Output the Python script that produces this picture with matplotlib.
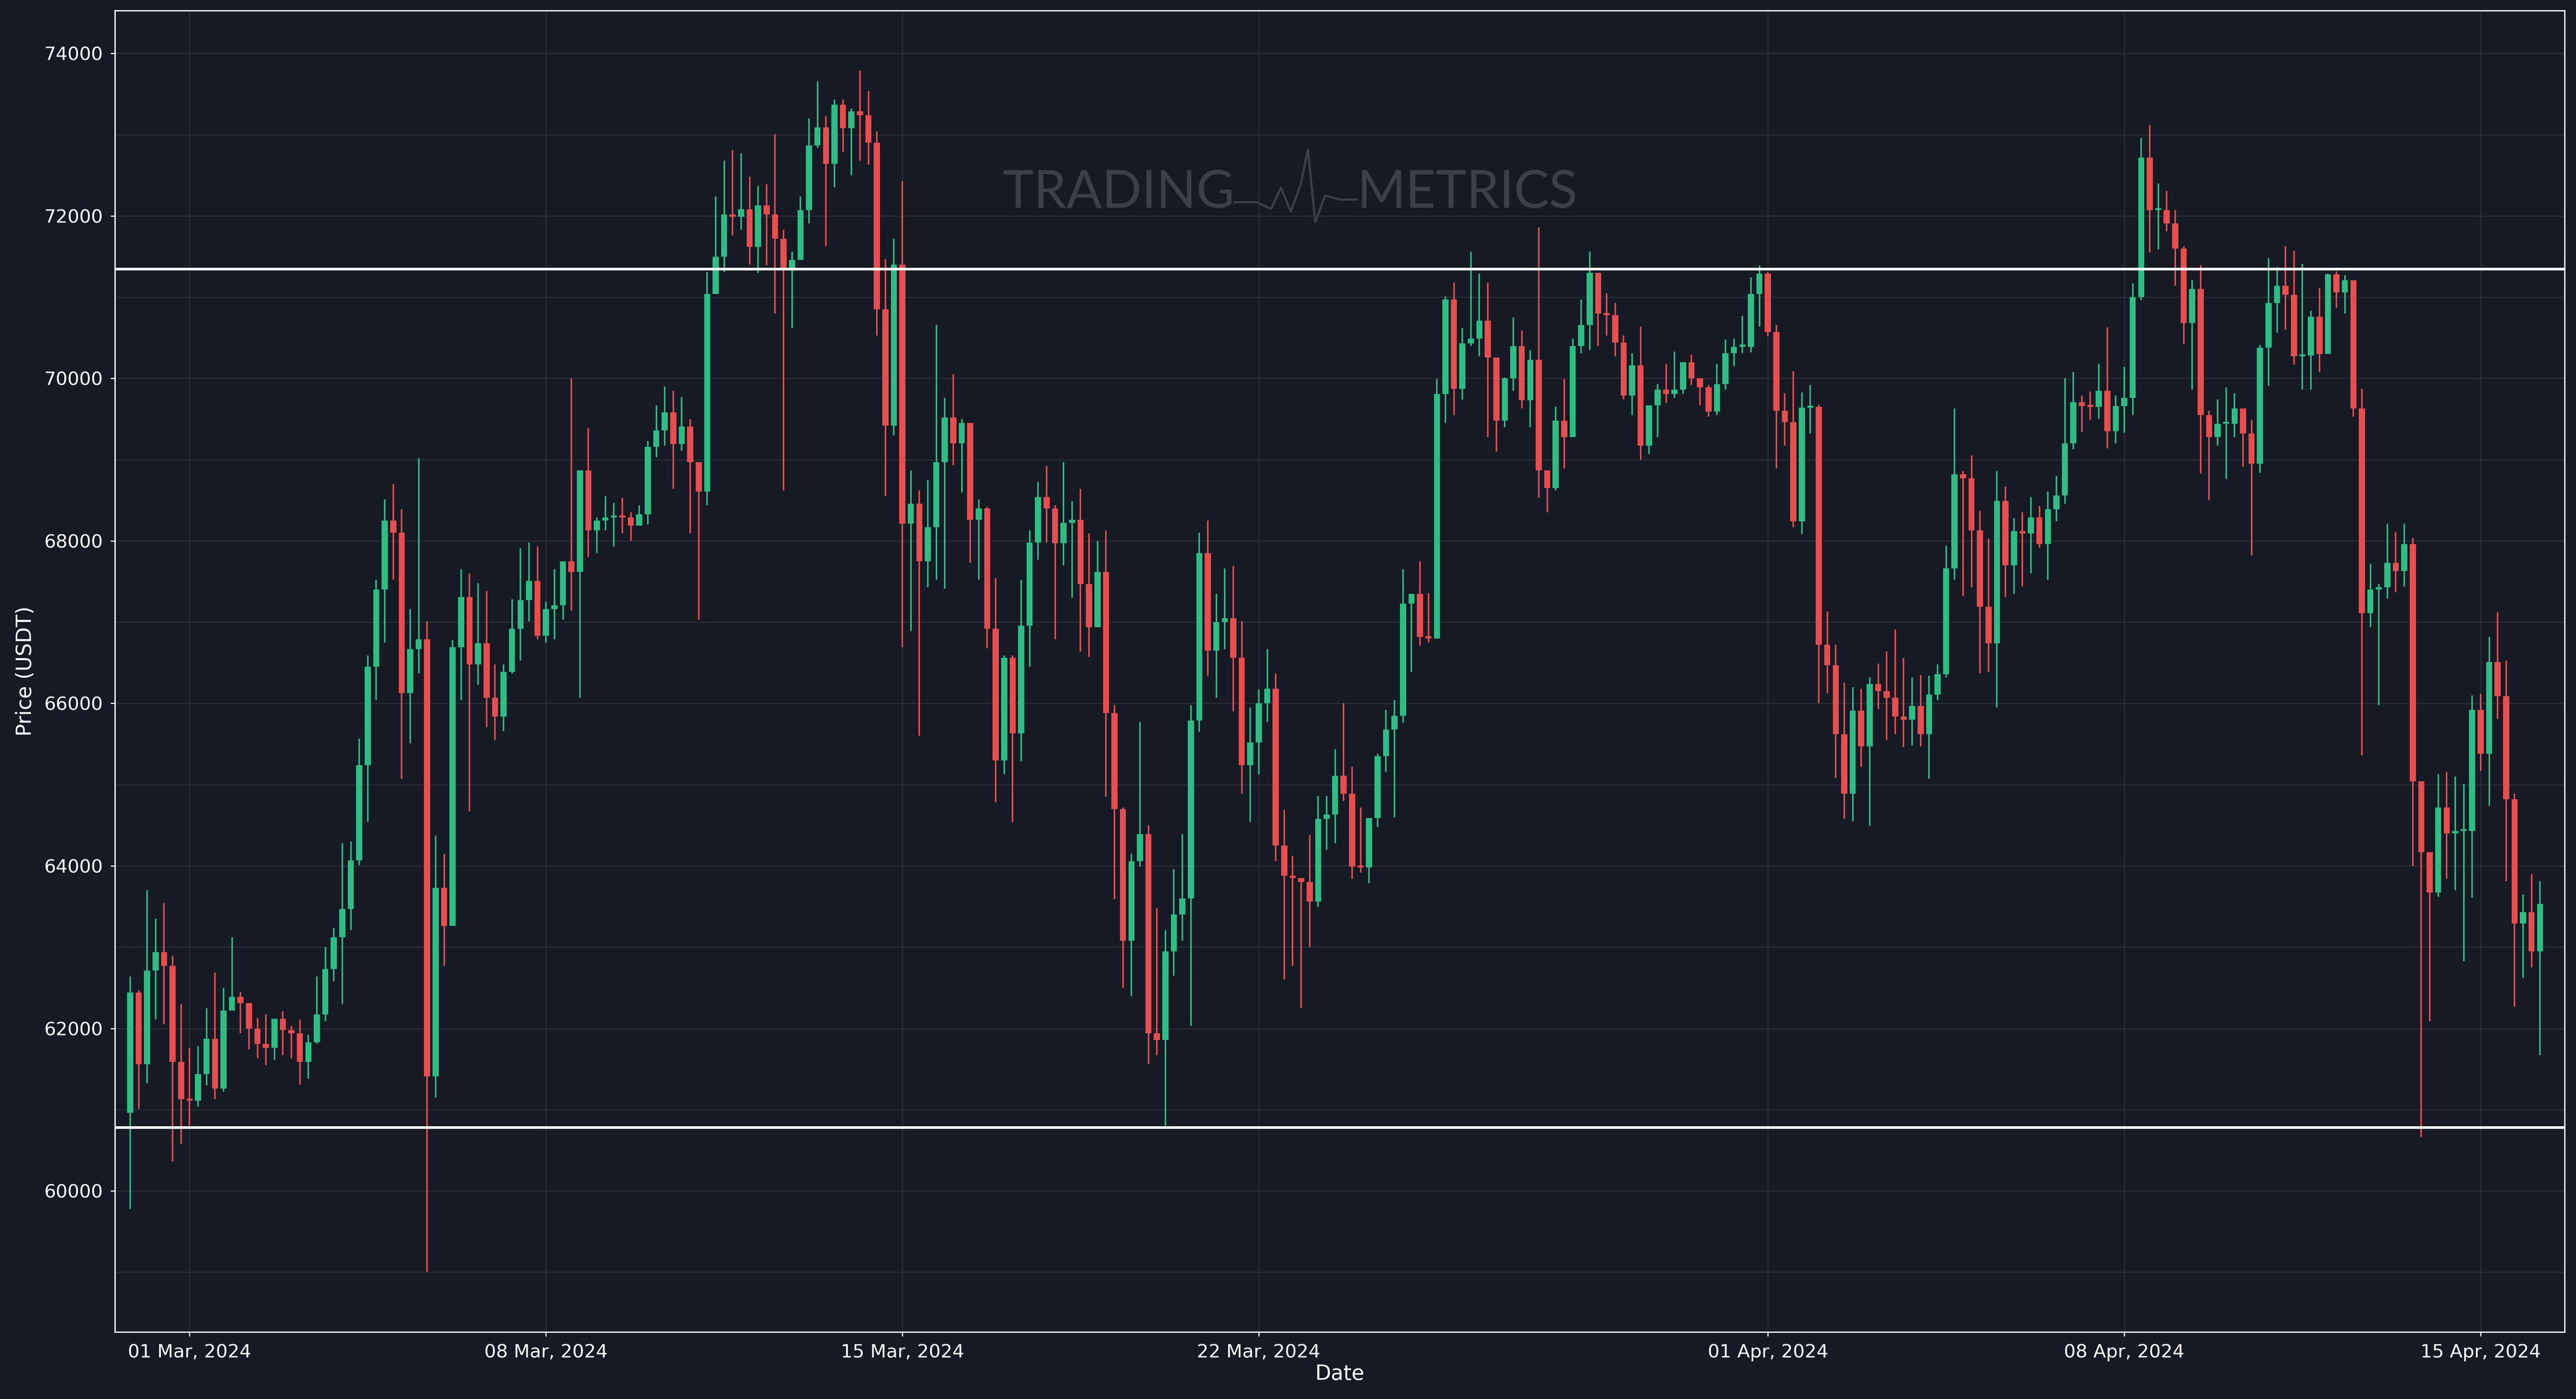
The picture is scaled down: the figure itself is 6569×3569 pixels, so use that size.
import matplotlib.pyplot as plt
import numpy as np

# 4h candles starting 2024-02-28 20:00, prices in thousands of USDT
first_open = 60.96
close = [62.44, 61.56, 62.71, 62.94, 62.77, 61.59, 61.13, 61.11, 61.44, 61.87,
         61.26, 62.22, 62.39, 62.31, 62.00, 61.81, 61.76, 62.12, 61.98, 61.94,
         61.59, 61.83, 62.17, 62.73, 63.12, 63.47, 64.07, 65.24, 66.45, 67.40,
         68.25, 68.10, 66.13, 66.67, 66.79, 61.41, 63.73, 63.26, 66.69, 67.31,
         66.48, 66.74, 66.07, 65.84, 66.39, 66.92, 67.27, 67.51, 66.83, 67.16,
         67.21, 67.75, 67.62, 68.87, 68.13, 68.25, 68.29, 68.31, 68.29, 68.19,
         68.33, 69.16, 69.36, 69.58, 69.19, 69.41, 68.97, 68.61, 71.04, 71.50,
         72.02, 71.99, 72.08, 71.62, 72.13, 72.02, 71.72, 71.36, 71.46, 72.07,
         72.87, 73.09, 72.64, 73.37, 73.08, 73.29, 73.24, 72.90, 70.85, 69.42,
         71.40, 68.21, 68.46, 67.75, 68.17, 68.97, 69.52, 69.20, 69.45, 68.26,
         68.40, 66.92, 65.30, 66.56, 65.63, 66.96, 67.98, 68.54, 68.40, 67.97,
         68.22, 68.26, 67.47, 66.94, 67.62, 65.88, 64.70, 63.08, 64.06, 64.39,
         61.94, 61.86, 62.95, 63.40, 63.60, 65.79, 67.85, 66.65, 67.00, 67.05,
         66.56, 65.24, 65.52, 66.00, 66.18, 64.25, 63.88, 63.85, 63.80, 63.56,
         64.58, 64.63, 65.11, 64.89, 63.99, 63.98, 64.59, 65.35, 65.68, 65.85,
         67.23, 67.35, 66.82, 66.80, 69.81, 70.97, 69.87, 70.43, 70.49, 70.71,
         70.26, 69.48, 70.00, 70.40, 69.73, 70.23, 68.87, 68.65, 69.48, 69.28,
         70.40, 70.66, 71.30, 70.80, 70.78, 70.44, 69.79, 70.16, 69.17, 69.67,
         69.86, 69.81, 69.86, 70.20, 70.00, 69.89, 69.59, 69.93, 70.31, 70.39,
         70.39, 71.04, 71.29, 70.57, 69.60, 69.46, 68.24, 69.64, 69.65, 66.72,
         66.47, 65.62, 64.89, 65.91, 65.47, 66.24, 66.15, 66.07, 65.84, 65.80,
         65.97, 65.62, 66.11, 66.36, 67.66, 68.82, 68.77, 68.13, 67.19, 66.74,
         68.49, 67.70, 68.12, 68.09, 68.29, 67.96, 68.39, 68.56, 69.20, 69.71,
         69.66, 69.65, 69.85, 69.35, 69.66, 69.76, 71.00, 72.72, 72.07, 72.07,
         71.91, 71.60, 70.68, 71.10, 69.55, 69.28, 69.44, 69.44, 69.63, 69.32,
         68.95, 70.38, 70.93, 71.14, 71.03, 70.27, 70.28, 70.76, 70.30, 71.28,
         71.06, 71.21, 69.63, 67.11, 67.40, 67.43, 67.73, 67.63, 67.96, 65.04,
         64.17, 63.67, 64.72, 64.40, 64.43, 64.43, 65.92, 65.38, 66.51, 66.09,
         64.82, 63.29, 63.43, 62.95, 63.53]
high = [62.64, 62.47, 63.70, 63.35, 63.54, 62.89, 62.30, 61.76, 61.78, 62.25,
        62.69, 62.50, 63.12, 62.45, 62.31, 62.13, 62.17, 62.12, 62.21, 62.03,
        62.11, 61.92, 62.64, 63.00, 63.24, 64.28, 64.30, 65.57, 66.59, 67.52,
        68.51, 68.70, 68.39, 67.16, 69.02, 67.01, 64.37, 64.15, 66.78, 67.65,
        67.60, 67.48, 67.38, 66.48, 66.48, 67.28, 67.91, 67.98, 67.93, 67.25,
        67.65, 67.75, 70.00, 68.87, 69.39, 68.29, 68.55, 68.47, 68.53, 68.35,
        68.44, 69.23, 69.67, 69.90, 69.85, 69.77, 69.50, 68.97, 71.31, 72.24,
        72.68, 72.81, 72.77, 72.48, 72.37, 72.39, 73.01, 71.83, 71.56, 72.24,
        73.20, 73.66, 73.23, 73.43, 73.43, 73.32, 73.79, 73.54, 73.04, 71.47,
        71.72, 72.43, 68.87, 68.62, 68.75, 70.66, 69.76, 70.05, 69.50, 69.45,
        68.51, 68.42, 67.54, 66.59, 66.59, 67.52, 68.13, 68.73, 68.92, 68.44,
        68.97, 68.49, 68.64, 68.09, 68.00, 68.13, 65.98, 64.72, 64.15, 65.77,
        64.50, 63.48, 63.21, 63.96, 64.39, 65.98, 68.10, 68.25, 67.35, 67.66,
        67.69, 67.01, 65.95, 66.17, 66.67, 66.37, 64.69, 64.12, 63.85, 64.38,
        64.86, 64.86, 65.44, 66.00, 65.22, 64.72, 64.59, 65.38, 65.92, 66.04,
        67.65, 67.35, 67.75, 67.36, 69.99, 71.01, 71.18, 70.62, 71.56, 71.29,
        71.18, 70.20, 70.01, 70.75, 70.59, 70.35, 71.86, 68.87, 69.65, 69.99,
        70.49, 70.97, 71.56, 71.27, 71.05, 70.93, 70.53, 70.31, 70.64, 69.67,
        69.93, 70.18, 70.33, 70.20, 70.29, 70.00, 69.92, 70.18, 70.48, 70.49,
        70.77, 71.24, 71.39, 71.31, 70.66, 69.82, 70.09, 69.83, 69.92, 69.68,
        67.13, 66.72, 66.26, 66.20, 66.18, 66.32, 66.49, 66.64, 66.91, 66.56,
        66.32, 66.35, 66.34, 66.48, 67.94, 69.63, 68.86, 69.05, 68.37, 68.03,
        68.86, 68.67, 68.28, 68.35, 68.54, 68.43, 68.61, 68.80, 70.00, 70.08,
        69.79, 69.84, 70.18, 70.63, 69.79, 70.14, 71.17, 72.96, 73.12, 72.40,
        72.31, 72.07, 71.63, 71.21, 71.39, 69.60, 69.74, 69.89, 69.82, 69.63,
        69.49, 70.41, 71.48, 71.37, 71.63, 71.57, 71.41, 70.83, 71.11, 71.29,
        71.32, 71.27, 71.21, 69.87, 67.72, 67.47, 68.21, 68.11, 68.21, 68.04,
        65.00, 64.07, 65.13, 65.16, 65.10, 65.01, 66.10, 66.12, 66.82, 67.12,
        66.53, 64.89, 63.65, 63.90, 63.81]
low = [59.78, 61.01, 61.32, 62.11, 62.05, 60.36, 60.58, 60.80, 61.04, 61.30,
       61.13, 61.22, 62.22, 61.94, 61.74, 61.63, 61.55, 61.61, 61.67, 61.63,
       61.31, 61.38, 61.81, 62.09, 62.58, 62.30, 63.21, 64.01, 64.54, 66.04,
       66.75, 67.52, 65.07, 65.51, 66.37, 59.00, 61.15, 62.77, 63.26, 66.04,
       64.67, 66.23, 65.71, 65.55, 65.66, 66.37, 66.53, 67.01, 66.79, 66.75,
       66.79, 67.03, 67.14, 66.07, 67.80, 67.85, 68.13, 67.93, 68.09, 68.00,
       68.19, 68.20, 69.03, 69.17, 68.64, 69.11, 68.09, 67.03, 68.44, 71.04,
       71.31, 71.76, 71.83, 71.40, 71.30, 71.39, 70.80, 68.62, 70.62, 71.46,
       71.91, 72.84, 71.63, 72.35, 72.79, 72.50, 72.68, 72.63, 70.53, 68.55,
       69.30, 66.69, 66.89, 65.60, 67.43, 67.52, 67.41, 68.93, 68.60, 67.73,
       67.52, 66.68, 64.78, 65.13, 64.54, 65.29, 66.45, 67.77, 67.98, 66.79,
       67.70, 67.30, 66.64, 66.57, 66.94, 64.85, 63.59, 62.50, 62.40, 63.99,
       61.56, 61.67, 60.80, 62.65, 63.08, 62.03, 65.65, 66.34, 66.07, 66.67,
       65.90, 64.89, 64.54, 65.13, 65.77, 64.06, 62.60, 62.77, 62.25, 63.00,
       63.50, 64.20, 64.28, 64.80, 63.84, 63.92, 63.79, 64.48, 65.16, 64.60,
       65.76, 66.39, 66.71, 66.75, 66.80, 69.45, 69.55, 69.74, 70.40, 70.27,
       69.28, 69.10, 69.40, 69.85, 69.63, 69.40, 68.53, 68.35, 68.62, 68.89,
       69.28, 70.31, 70.35, 70.40, 70.53, 70.27, 69.74, 69.55, 69.00, 69.07,
       69.28, 69.70, 69.76, 69.81, 69.92, 69.67, 69.53, 69.55, 69.86, 70.15,
       70.31, 70.32, 70.64, 70.52, 68.89, 69.17, 68.17, 68.08, 69.32, 66.00,
       66.13, 65.08, 64.58, 64.55, 65.22, 64.49, 65.93, 65.55, 65.62, 65.46,
       65.48, 65.47, 65.07, 66.04, 66.32, 67.52, 67.32, 67.43, 66.37, 66.39,
       65.95, 67.31, 67.35, 67.44, 67.60, 67.92, 67.52, 68.24, 68.46, 69.13,
       69.34, 69.49, 69.50, 69.14, 69.20, 69.33, 69.55, 70.96, 71.55, 71.59,
       71.81, 71.14, 70.42, 69.86, 68.83, 68.50, 69.17, 68.76, 69.28, 68.91,
       67.82, 68.84, 69.91, 70.56, 70.60, 70.17, 69.86, 69.86, 70.08, 70.30,
       70.87, 70.80, 69.53, 65.36, 66.94, 65.98, 67.29, 67.37, 67.44, 64.00,
       60.66, 62.09, 63.62, 63.84, 63.70, 62.83, 63.61, 65.17, 64.74, 65.81,
       63.81, 62.27, 62.62, 62.75, 61.67]
resistance = 71350
support = 60780
# candle index of each date tick (6 candles per day)
tick_pos = [7, 49, 91, 133, 193, 235, 277]
tick_labels = ["01 Mar, 2024", "08 Mar, 2024", "15 Mar, 2024", "22 Mar, 2024",
               "01 Apr, 2024", "08 Apr, 2024", "15 Apr, 2024"]

c = np.array(close) * 1000
h = np.array(high) * 1000
l = np.array(low) * 1000
o = np.concatenate([[first_open * 1000], c[:-1]])
x = np.arange(len(c))

bg = "#161a25"
green = "#2ebd85"
red = "#e84d4f"

fig = plt.figure(figsize=(6569 / 400, 3569 / 400), dpi=400, facecolor=bg)
ax = fig.add_axes([0.0446, 0.048, 0.951, 0.9444])
ax.set_facecolor(bg)

up = c >= o
cols = np.where(up, green, red)
ax.vlines(x, l, h, colors=cols, linewidth=0.7, zorder=2)
bot = np.minimum(o, c)
hgt = np.maximum(np.abs(c - o), 25)
ax.bar(x, hgt, bottom=bot, width=0.72, color=cols, linewidth=0, zorder=3)

ax.axhline(resistance, color="white", linewidth=1.2, zorder=4)
ax.axhline(support, color="white", linewidth=1.2, zorder=4)

ax.set_xlim(-1.8, 286.9)
ax.set_ylim(58265, 74527)
ax.set_xticks(tick_pos)
ax.set_xticklabels(tick_labels)
ax.set_yticks(np.arange(60000, 74001, 2000))
ax.set_yticks(np.arange(59000, 74001, 1000), minor=True)
ax.grid(True, which="both", color="#2a2e39", linewidth=0.5, zorder=0)
ax.tick_params(colors="white", labelsize=8.5, length=2, width=0.5)
ax.tick_params(which="minor", length=0)
for s in ax.spines.values():
    s.set_color("white")
    s.set_linewidth(0.6)
ax.set_xlabel("Date", color="white", fontsize=9.5, labelpad=1)
ax.set_ylabel("Price (USDT)", color="white", fontsize=9.5, labelpad=4)

# watermark
wm = "#3b3f4a"
ax.text(0.457, 0.862, "TRADING", transform=ax.transAxes, color=wm,
        fontsize=24, ha="right", va="center", family="Lato", zorder=1)
ax.text(0.507, 0.862, "METRICS", transform=ax.transAxes, color=wm,
        fontsize=24, ha="left", va="center", family="Lato", zorder=1)
wave_x = [0.457, 0.466, 0.472, 0.476, 0.480, 0.484, 0.487, 0.490, 0.494, 0.500, 0.507]
wave_y = [0.855, 0.855, 0.850, 0.866, 0.848, 0.868, 0.895, 0.840, 0.860, 0.857, 0.857]
ax.plot(wave_x, wave_y, transform=ax.transAxes, color=wm, linewidth=1.0, zorder=1)

fig.savefig("out.png", dpi=400, facecolor=bg)
